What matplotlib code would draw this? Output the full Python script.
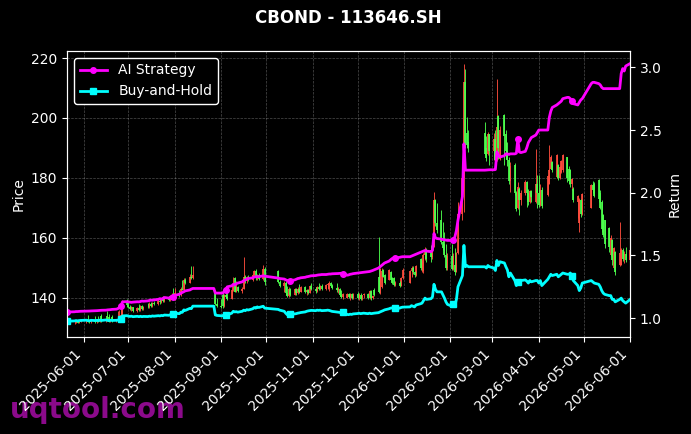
import numpy as np
import pandas as pd
import matplotlib
matplotlib.use("Agg")
import matplotlib.pyplot as plt
import matplotlib.dates as mdates

# trading calendar (exchange holidays removed)
start_day = "2025-05-21"
end_day = "2026-06-01"
holidays = ["2025-06-02", "2025-10-01", "2025-10-02", "2025-10-03", "2025-10-06",
            "2025-10-07", "2025-10-08", "2026-01-01", "2026-01-02", "2026-02-16",
            "2026-02-17", "2026-02-18", "2026-02-19", "2026-02-20", "2026-02-23",
            "2026-04-06", "2026-05-01", "2026-05-04", "2026-05-05"]

N = None  # suspended days (no candle)

opens = [
    # May
    131.6, 131.5, 131.8, 131.4, 131.6, 132.0, 131.7, 131.9,
    # Jun
    132.1, 132.4, 132.0, 131.8, 132.2, 131.9, 132.3, 132.0, 133.8, 132.1,
    134.0, 133.5, 132.0, 133.4, 132.1, 132.3, 133.0, 133.6, 134.2, 139.0,
    # Jul
    137.7, 136.9, 136.3, 136.8, 135.6, 136.5, 135.9, 137.2, 136.1, 137.0, 136.8, 138.0,
    137.2, 138.3, 137.8, 139.0, 138.4, 139.6, 138.9, 139.9, 139.2, 140.3, 141.0,
    # Aug
    139.5, 141.5, 140.8, 142.9, 142.7, 145.8, 145.0, 147.0, 146.5,
    N, N, N, N, N, N, N, N, N, N, 142.0, 138.0,
    # Sep
    137.3, 141.0, 137.3, 140.8, 140.2, 139.6, 142.6, 146.5, 142.0, 143.5, 142.2,
    143.0, 146.8, 145.4, 146.9, 146.0, 147.4, 148.9, 146.4, 147.5, 146.3, 149.6,
    # Oct
    149.0, 145.2, 144.0, 145.0, 141.6, 140.5, 142.8, 141.0, 142.9, 141.4, 143.0,
    142.0, 143.6, 141.9, 142.6, 141.6, 143.8,
    # Nov
    143.0, 142.2, 143.6, 143.0, 144.0, 142.9, 144.2, 143.0, 145.0, 143.8,
    143.2, 142.4, 142.9, 140.8, 140.2, 140.0, 141.3, 140.1, 141.2, 139.9,
    # Dec
    141.3, 140.0, 141.0, 139.6, 140.8, 141.2, 139.8, 142.2, 139.8, 142.5, 147.0, 141.5,
    143.5, 149.3, 147.6, 146.0, 148.5, 146.5, 146.5, 144.3, 145.0, 144.0, 146.6,
    # Jan
    145.0, 149.0, 150.0, 148.5, 147.4, 153.0, 149.8, 149.0, 154.2, 156.0,
    156.0, 153.5, 157.0, 172.5, 165.0, 166.0, 158.5, 158.0, 154.2, 150.0,
    # Feb
    154.0, 149.6, 151.0, 148.7, 155.0, 168.0, 180.0, 212.0, 195.0, 192.0,
    195.0, 190.0, 188.0, 194.5,
    # Mar
    189.0, 193.0, 186.0, 200.8, 186.4, 201.0, 194.7, 189.0, 186.0, 179.0, 184.2,
    175.0, 170.0, 176.4, 172.5, 175.0, 178.5, 175.0, 172.0, 175.5, 172.0, 178.0,
    # Apr
    175.0, 171.0, 176.0, 174.2, 178.1, 183.1, 185.3, 180.3, 184.2, 180.0, 182.0,
    182.5, 186.9, 183.0, 182.5, 178.0, 176.4, 172.0, 165.0, 172.5, 168.0,
    # May
    170.0, 177.5, 178.1, 179.2, 175.0, 172.0, 167.6, 165.9, 163.2, 154.3,
    159.3, 149.9, 155.4, 151.0, 151.0, 156.0, 153.0, 154.5,
    # Jun
    152.5,
]

highs = [
    132.2, 132.0, 132.0, 131.9, 132.3, 132.2, 132.1, 132.4,
    133.0, 134.2, 132.6, 132.5, 134.0, 132.6, 133.8, 132.8, 134.4, 132.9,
    135.4, 134.5, 132.6, 134.2, 132.6, 135.5, 136.0, 137.2, 139.3, 139.5,
    138.5, 137.5, 137.2, 137.0, 136.8, 138.0, 137.6, 137.5, 137.3, 138.2, 138.4, 138.5,
    138.6, 139.0, 139.4, 139.8, 140.0, 140.4, 140.2, 140.5, 140.8, 141.5, 143.3,
    143.3, 142.6, 143.5, 146.0, 146.6, 146.5, 148.0, 150.4, 150.4,
    N, N, N, N, N, N, N, N, N, N, 142.5, 140.0,
    139.5, 142.0, 141.2, 143.8, 142.0, 143.0, 147.0, 147.0, 145.5, 144.0, 143.6,
    153.7, 147.5, 147.2, 147.5, 147.8, 149.3, 149.5, 148.0, 148.2, 151.0, 150.2,
    149.3, 146.0, 145.4, 145.6, 143.8, 143.5, 143.2, 143.2, 143.2, 143.5, 144.4,
    144.0, 144.0, 143.0, 143.0, 144.3, 144.9,
    143.6, 144.0, 144.9, 144.2, 144.5, 144.4, 145.0, 145.4, 145.3, 144.5,
    144.9, 143.5, 143.2, 142.7, 141.5, 141.5, 141.6, 141.5, 141.4, 141.6,
    141.8, 141.5, 141.5, 141.0, 141.6, 141.7, 142.7, 142.5, 141.0, 143.2, 160.4, 149.9,
    149.9, 149.6, 148.0, 149.6, 148.8, 147.0, 146.8, 145.5, 145.6, 147.0, 149.9,
    149.3, 150.4, 150.5, 149.0, 151.0, 153.2, 152.6, 154.8, 157.0, 156.5,
    157.5, 158.0, 175.3, 173.0, 171.5, 169.2, 165.3, 162.0, 158.0, 154.8,
    158.0, 154.8, 156.5, 155.4, 172.0, 182.0, 218.0, 216.4, 200.2, 196.0,
    198.6, 194.0, 195.3, 194.7,
    195.0, 196.0, 213.0, 201.0, 197.3, 201.4, 196.0, 192.0, 187.0, 185.3, 185.0,
    175.6, 178.5, 177.0, 176.0, 179.2, 179.0, 176.4, 176.0, 176.0, 189.7, 180.8,
    180.8, 178.0, 177.0, 180.8, 190.8, 187.5, 185.5, 188.0, 184.5, 184.0, 186.0,
    188.0, 187.0, 184.0, 183.0, 180.0, 176.8, 174.2, 173.1, 173.0, 175.0,
    178.1, 179.0, 178.5, 179.5, 176.0, 172.5, 168.0, 166.0, 163.5, 160.9,
    159.5, 157.0, 155.6, 165.3, 156.5, 156.5, 155.5, 157.0,
    157.0,
]

lows = [
    131.2, 131.3, 131.2, 131.2, 131.5, 131.5, 131.6, 131.8,
    131.6, 131.8, 131.5, 131.6, 131.7, 131.7, 131.8, 131.9, 132.0, 131.9,
    132.1, 131.9, 131.8, 132.0, 131.8, 132.0, 132.6, 133.3, 133.3, 137.0,
    136.6, 136.0, 135.5, 135.2, 135.3, 135.6, 135.5, 135.8, 135.9, 136.5, 136.6, 136.9,
    137.0, 137.5, 137.6, 138.0, 138.2, 138.5, 138.6, 138.8, 139.0, 139.6, 139.5,
    139.2, 140.2, 140.5, 142.4, 142.5, 144.5, 144.8, 146.2, 146.3,
    N, N, N, N, N, N, N, N, N, N, 137.5, 136.8,
    136.5, 136.7, 137.0, 139.8, 139.3, 139.4, 142.3, 141.8, 141.8, 141.8, 141.5,
    142.8, 145.0, 144.8, 145.6, 145.5, 146.8, 146.0, 145.8, 145.9, 146.0, 144.3,
    144.9, 143.5, 142.0, 141.0, 140.1, 140.2, 140.5, 140.8, 141.0, 141.2, 141.6,
    141.8, 141.4, 141.0, 141.2, 141.4, 142.6,
    141.5, 141.8, 142.7, 142.6, 142.5, 142.7, 143.0, 142.2, 143.4, 142.8,
    142.0, 141.6, 140.4, 139.9, 139.7, 139.9, 139.8, 139.3, 139.5, 139.6,
    139.5, 139.3, 139.3, 139.3, 139.8, 139.5, 139.6, 139.3, 139.5, 140.5, 141.6, 141.2,
    143.2, 146.8, 144.6, 145.8, 145.5, 144.5, 144.0, 143.8, 143.6, 143.8, 146.2,
    144.9, 147.0, 148.0, 147.0, 147.2, 149.3, 148.7, 148.2, 152.5, 152.0,
    152.0, 153.0, 156.8, 164.0, 161.5, 158.0, 156.0, 153.7, 149.3, 149.3,
    149.3, 149.3, 147.6, 148.5, 154.5, 166.0, 168.7, 189.8, 189.8, 188.5,
    187.5, 185.5, 187.5, 184.2,
    186.0, 185.0, 185.5, 186.4, 186.0, 184.2, 186.4, 184.0, 178.0, 175.3, 174.2,
    168.9, 169.5, 167.6, 171.0, 174.2, 170.3, 171.0, 171.5, 172.0, 171.5, 169.8,
    170.3, 170.5, 169.8, 174.0, 178.0, 182.8, 182.0, 180.0, 179.2, 179.5, 181.5,
    182.0, 178.6, 178.0, 177.0, 176.0, 172.0, 166.5, 162.0, 167.0, 167.5,
    169.8, 175.0, 173.7, 172.0, 169.5, 162.0, 160.4, 156.5, 155.4, 154.0,
    151.0, 149.5, 147.6, 150.5, 150.8, 152.3, 151.5, 152.0,
    152.0,
]

closes = [
    131.5, 131.8, 131.4, 131.6, 132.0, 131.7, 131.9, 132.1,
    132.4, 132.0, 131.8, 132.2, 131.9, 132.3, 132.0, 132.5, 132.1, 132.6,
    132.2, 132.0, 132.4, 132.1, 132.3, 133.0, 133.6, 134.2, 137.4, 137.7,
    136.9, 136.3, 136.8, 135.6, 136.5, 135.9, 137.2, 136.1, 137.0, 136.8, 138.0, 137.2,
    138.3, 137.8, 139.0, 138.4, 139.6, 138.9, 139.9, 139.2, 140.3, 140.8, 139.8,
    141.5, 140.8, 142.9, 142.7, 145.8, 145.0, 147.0, 146.5, 147.5,
    N, N, N, N, N, N, N, N, N, N, 138.0, 137.3,
    137.0, 137.3, 140.8, 140.2, 139.6, 142.6, 144.0, 142.0, 143.5, 142.2, 143.0,
    146.8, 145.4, 146.9, 146.0, 147.4, 148.9, 146.4, 147.5, 146.3, 149.6, 145.3,
    145.2, 144.0, 145.0, 141.6, 140.5, 142.8, 141.0, 142.9, 141.4, 143.0, 142.0,
    143.6, 141.9, 142.6, 141.6, 143.8, 143.0,
    142.2, 143.6, 143.0, 144.0, 142.9, 144.2, 144.6, 145.0, 143.8, 143.2,
    142.4, 142.9, 140.8, 140.2, 141.2, 141.3, 140.1, 141.2, 139.9, 141.3,
    140.0, 141.0, 139.6, 140.8, 141.2, 139.8, 142.2, 139.8, 140.6, 141.0, 142.0, 149.4,
    148.8, 147.0, 144.9, 149.3, 146.0, 144.9, 144.3, 145.0, 144.0, 146.6, 149.2,
    149.0, 150.0, 148.5, 147.4, 150.6, 149.8, 152.0, 154.2, 156.0, 153.0,
    153.5, 157.0, 172.5, 165.0, 162.5, 158.5, 156.5, 154.2, 150.0, 154.0,
    149.6, 153.8, 148.5, 155.0, 168.0, 180.0, 212.0, 190.0, 191.0, 190.0,
    188.0, 186.5, 194.5, 189.0,
    193.0, 186.0, 197.0, 190.0, 196.0, 194.0, 189.0, 186.0, 179.0, 184.0, 175.0,
    169.5, 177.0, 172.5, 175.0, 178.5, 175.0, 172.0, 175.5, 173.5, 178.0, 175.0,
    171.0, 176.0, 170.5, 180.5, 182.5, 187.0, 182.5, 187.5, 180.0, 183.5, 185.5,
    187.5, 180.0, 179.0, 178.0, 179.5, 172.5, 174.0, 172.5, 168.0, 174.5,
    177.5, 176.0, 174.0, 173.0, 170.0, 163.0, 161.0, 158.0, 157.0, 160.0,
    152.5, 156.5, 148.5, 155.0, 156.0, 153.0, 154.5, 152.5,
    156.0,
]

ai_strategy = [
    1.050, 1.051, 1.050, 1.051, 1.053, 1.053, 1.054, 1.055,
    1.056, 1.057, 1.057, 1.058, 1.059, 1.060, 1.061, 1.062, 1.063, 1.064,
    1.066, 1.067, 1.068, 1.070, 1.072, 1.077, 1.085, 1.095, 1.130, 1.132,
    1.130, 1.128, 1.126, 1.128, 1.131, 1.130, 1.133, 1.137, 1.135, 1.138, 1.141, 1.145,
    1.143, 1.146, 1.150, 1.156, 1.152, 1.158, 1.165, 1.160, 1.168, 1.172, 1.168,
    1.183, 1.190, 1.200, 1.205, 1.212, 1.218, 1.225, 1.232, 1.237,
    1.237, 1.237, 1.237, 1.237, 1.237, 1.237, 1.237, 1.237, 1.237, 1.237, 1.200, 1.200,
    1.200, 1.200, 1.215, 1.225, 1.250, 1.258, 1.270, 1.265, 1.275, 1.280, 1.290,
    1.300, 1.305, 1.312, 1.316, 1.322, 1.328, 1.330, 1.332, 1.330, 1.338, 1.335,
    1.320, 1.316, 1.312, 1.306, 1.300, 1.302, 1.300, 1.305, 1.310, 1.316, 1.318,
    1.322, 1.326, 1.330, 1.332, 1.335, 1.338,
    1.340, 1.343, 1.345, 1.346, 1.348, 1.348, 1.350, 1.352, 1.352, 1.354,
    1.355, 1.356, 1.357, 1.358, 1.356, 1.343, 1.345, 1.350, 1.352, 1.355,
    1.360, 1.362, 1.364, 1.365, 1.366, 1.370, 1.372, 1.376, 1.380, 1.385, 1.400, 1.410,
    1.420, 1.430, 1.440, 1.455, 1.465, 1.475, 1.480, 1.482, 1.485, 1.488, 1.490,
    1.490, 1.495, 1.500, 1.505, 1.510, 1.525, 1.530, 1.535, 1.540, 1.535,
    1.530, 1.540, 1.675, 1.640, 1.635, 1.630, 1.627, 1.625, 1.622, 1.620,
    1.620, 1.625, 1.650, 1.700, 1.780, 1.970, 2.390, 2.180, 2.180, 2.180,
    2.180, 2.181, 2.182, 2.183,
    2.183, 2.185, 2.325, 2.300, 2.285, 2.295, 2.310, 2.310, 2.305, 2.310, 2.310,
    2.315, 2.430, 2.325, 2.320, 2.330, 2.360, 2.400, 2.420, 2.440, 2.460, 2.480,
    2.500, 2.500, 2.500, 2.500, 2.600, 2.650, 2.680, 2.700, 2.710, 2.720, 2.730,
    2.750, 2.760, 2.760, 2.750, 2.730, 2.710, 2.700, 2.720, 2.740, 2.750,
    2.870, 2.880, 2.880, 2.870, 2.860, 2.840, 2.830, 2.830, 2.830, 2.830,
    2.830, 2.830, 2.830, 2.830, 2.950, 2.990, 2.970, 3.010,
    3.030,
]

buy_and_hold = [
    0.978, 0.980, 0.977, 0.978, 0.981, 0.979, 0.981, 0.982,
    0.984, 0.981, 0.980, 0.983, 0.981, 0.983, 0.981, 0.985, 0.982, 0.986,
    0.983, 0.981, 0.984, 0.982, 0.983, 0.985, 0.987, 0.990, 1.018, 1.020,
    1.016, 1.014, 1.016, 1.012, 1.015, 1.012, 1.015, 1.012, 1.014, 1.013, 1.016, 1.014,
    1.018, 1.016, 1.020, 1.018, 1.022, 1.020, 1.025, 1.023, 1.028, 1.032, 1.030,
    1.040, 1.036, 1.048, 1.047, 1.066, 1.062, 1.078, 1.076, 1.096,
    1.096, 1.096, 1.096, 1.096, 1.096, 1.096, 1.096, 1.096, 1.096, 1.096, 1.026, 1.022,
    1.019, 1.020, 1.030, 1.028, 1.026, 1.040, 1.055, 1.050, 1.052, 1.048, 1.055,
    1.064, 1.060, 1.068, 1.065, 1.075, 1.085, 1.080, 1.090, 1.085, 1.095, 1.080,
    1.070, 1.064, 1.055, 1.040, 1.028, 1.024, 1.030, 1.034, 1.036, 1.040, 1.042,
    1.045, 1.050, 1.055, 1.058, 1.060, 1.062,
    1.060, 1.064, 1.062, 1.064, 1.060, 1.062, 1.064, 1.062, 1.058, 1.054,
    1.050, 1.048, 1.046, 1.044, 1.050, 1.030, 1.028, 1.032, 1.030, 1.034,
    1.037, 1.040, 1.036, 1.038, 1.040, 1.036, 1.040, 1.036, 1.038, 1.040, 1.044, 1.050,
    1.055, 1.060, 1.066, 1.075, 1.080, 1.082, 1.078, 1.082, 1.080, 1.085, 1.088,
    1.090, 1.100, 1.095, 1.090, 1.105, 1.115, 1.120, 1.140, 1.160, 1.150,
    1.155, 1.170, 1.270, 1.230, 1.210, 1.210, 1.185, 1.160, 1.130, 1.110,
    1.096, 1.115, 1.105, 1.150, 1.250, 1.340, 1.580, 1.410, 1.420, 1.410,
    1.410, 1.400, 1.420, 1.410,
    1.400, 1.380, 1.460, 1.420, 1.450, 1.440, 1.410, 1.385, 1.330, 1.360, 1.300,
    1.260, 1.290, 1.280, 1.300, 1.305, 1.295, 1.280, 1.300, 1.290, 1.300, 1.300,
    1.280, 1.300, 1.260, 1.310, 1.330, 1.350, 1.340, 1.350, 1.330, 1.340, 1.350,
    1.360, 1.350, 1.350, 1.360, 1.340, 1.300, 1.260, 1.220, 1.240, 1.280,
    1.300, 1.290, 1.280, 1.270, 1.250, 1.220, 1.200, 1.190, 1.180, 1.180,
    1.150, 1.150, 1.130, 1.150, 1.160, 1.140, 1.130, 1.120,
    1.150,
]

UP = "#ff4d3d"
DOWN = "#4dff4d"

dates = pd.bdate_range(start_day, end_day)
dates = dates[~dates.isin(pd.to_datetime(holidays))]

o = np.array(opens, dtype=float)
h = np.array(highs, dtype=float)
l = np.array(lows, dtype=float)
c = np.array(closes, dtype=float)

fig = plt.figure(figsize=(6.91, 4.34), dpi=100, facecolor="black")
ax = fig.add_axes([0.097, 0.2235, 0.815, 0.659])
ax.set_facecolor("black")

up = c >= o
dn = c < o
ax.vlines(dates[up], l[up], h[up], color=UP, lw=0.7, alpha=0.9)
ax.vlines(dates[up], o[up], c[up], color=UP, lw=1.4, alpha=0.9)
ax.vlines(dates[dn], l[dn], h[dn], color=DOWN, lw=0.7, alpha=0.9)
ax.vlines(dates[dn], c[dn], o[dn], color=DOWN, lw=1.4, alpha=0.9)

ax.set_xlim(dates[0], dates[-1])
ax.set_ylabel("Price", color="white", fontsize=10)
ax.grid(True, color="white", alpha=0.3, linestyle="--", lw=0.5)

ax2 = ax.twinx()
ax2.plot(dates, ai_strategy, color="#ff00ff", lw=2, marker="o", markersize=4,
         markevery=25, label="AI Strategy")
ax2.plot(dates, buy_and_hold, color="#00ffff", lw=2, marker="s", markersize=4,
         markevery=25, label="Buy-and-Hold")
ax2.set_ylim(0.85, 3.13)
ax2.set_ylabel("Return", color="white", fontsize=10)

ax.xaxis.set_major_locator(mdates.MonthLocator())
ax.xaxis.set_major_formatter(mdates.DateFormatter("%Y-%m-%d"))
plt.setp(ax.get_xticklabels(), rotation=45, ha="right")

for a in (ax, ax2):
    a.tick_params(colors="white", labelsize=10)
    for s in a.spines.values():
        s.set_color("white")

leg = ax2.legend(loc="upper left", facecolor="black", edgecolor="white",
                 fontsize=10, framealpha=1)
for t in leg.get_texts():
    t.set_color("white")

ax.set_title("CBOND - 113646.SH", color="white", fontsize=12,
             fontweight="bold", pad=20)

fig.text(0.014, 0.037, "uqtool.com", fontsize=20, fontweight="bold",
         color="#8b0a8b", zorder=-1)

fig.savefig("out.png", dpi=100, facecolor="black")
